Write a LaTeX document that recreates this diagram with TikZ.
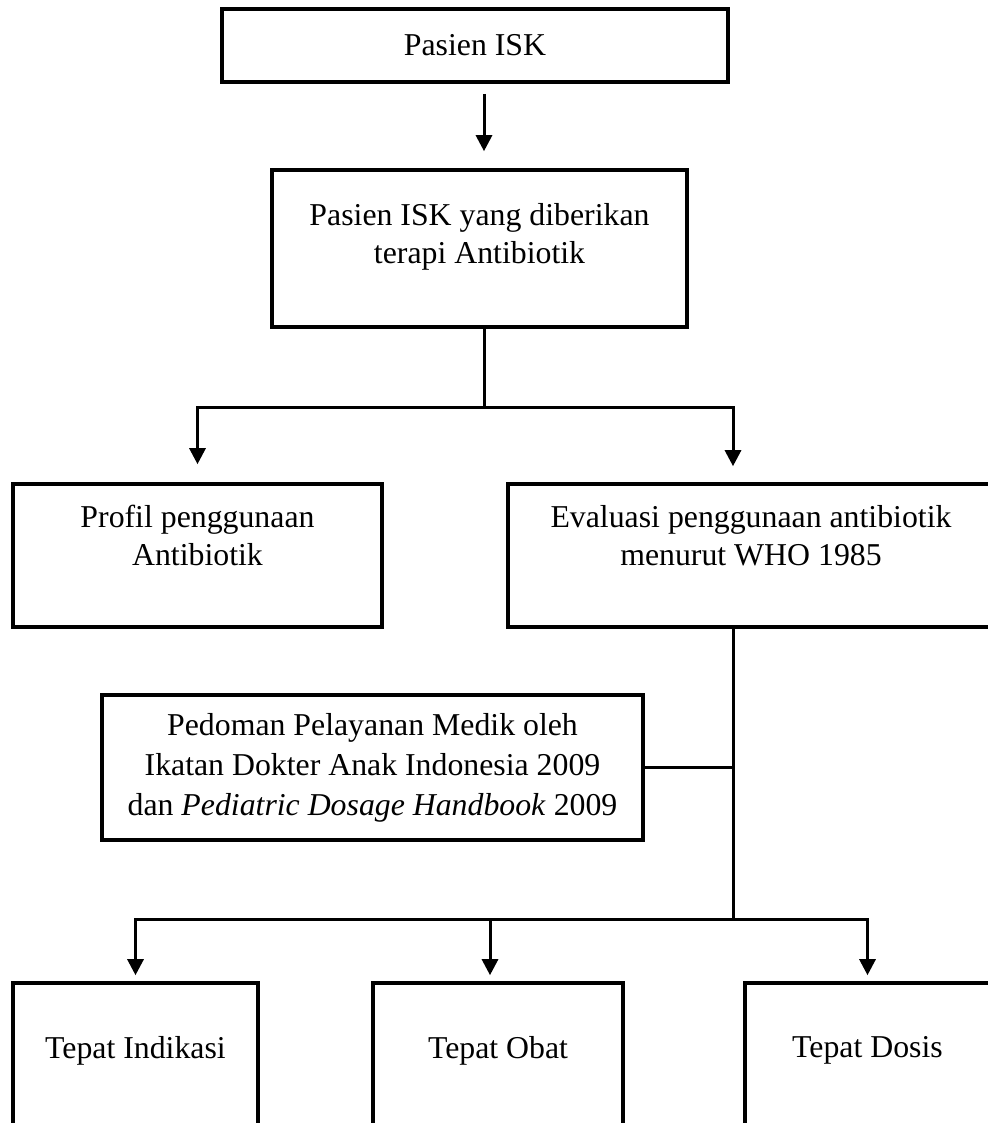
\documentclass[tikz,border=0pt]{standalone}
\usepackage{fontspec}
\setmainfont{Liberation Serif}
\usetikzlibrary{arrows.meta}

\begin{document}
\begin{tikzpicture}[x=0.5pt, y=-0.5pt, font=\fontsize{15.9}{19}\selectfont,
		box/.style={draw, line width=1.8pt, inner sep=0pt, align=center},
		lbl/.style={anchor=north, align=center, inner sep=0pt},
		arr/.style={-{Triangle[length=8pt, width=8pt]}, line width=1.5pt},
		ln/.style={line width=1.5pt}]
		\clip (0,0) rectangle (988,1123);

		\node [box, minimum width=253pt, minimum height=36.5pt] (pas) at (475,45.5) {Pasien ISK};
		\node [box, minimum width=207.5pt, minimum height=78.5pt,
			label={[lbl, yshift=-17.5pt]north:{Pasien ISK yang diberikan\\terapi Antibiotik}}] (ter) at (479.5,248.5) {};
		\node [box, minimum width=184.5pt, minimum height=71.5pt,
			label={[lbl, yshift=-11.5pt]north:{Profil penggunaan\\Antibiotik}}] (prof) at (197.5,555.5) {};
		\node [box, minimum width=243pt, minimum height=71.5pt,
			label={[lbl, yshift=-11.5pt]north:{Evaluasi penggunaan antibiotik\\menurut WHO 1985}}] (eva) at (751,555.5) {};
		\node [box, minimum width=270.5pt, minimum height=72.5pt, font=\fontsize{15.9}{20}\selectfont] (ped) at (372.5,767.5)
			{Pedoman Pelayanan Medik oleh\\Ikatan Dokter Anak Indonesia 2009\\dan \textit{Pediatric Dosage Handbook} 2009};
		\node [box, minimum width=122.5pt, minimum height=100pt,
			label={[lbl, yshift=-27.5pt]north:Tepat Indikasi}] (ind) at (135.5,1083) {};
		\node [box, minimum width=125pt, minimum height=100pt,
			label={[lbl, yshift=-27.5pt]north:Tepat Obat}] (obt) at (498,1083) {};
		\node [box, minimum width=122.5pt, minimum height=100pt,
			label={[lbl, yshift=-27.5pt]north:Tepat Dosis}] (dos) at (867.5,1083) {};

		\coordinate (j1) at (484,407);
		\coordinate (j2) at (733,919);
		\coordinate (j3) at (490,919);

		\draw [arr, shorten <=5pt, shorten >=8.5pt] (pas.south -| j1) -- (ter.north -| j1);
		\draw [ln] (ter.south -| j1) -- (j1);
		\draw [arr, shorten >=9pt] (j1) -| (prof.north);
		\draw [arr, shorten >=8pt] (j1) -| (eva.north -| j2);
		\draw [ln] (eva.south -| j2) -- (j2);
		\draw [ln] (ped.east) -- (ped.east -| j2);
		\draw [arr, shorten >=3pt] (j2) -| (ind.north);
		\draw [arr, shorten >=3pt] (j2) -| (dos.north);
		\draw [arr, shorten >=3pt] (j3) -- (j3 |- obt.north);
	\end{tikzpicture}
\end{document}
